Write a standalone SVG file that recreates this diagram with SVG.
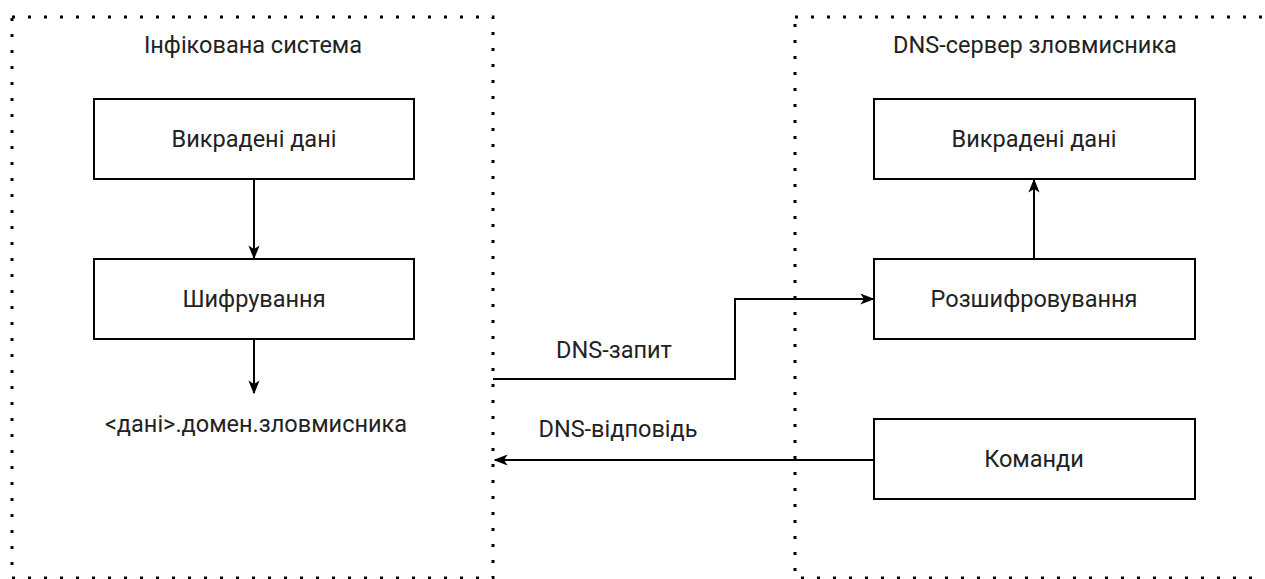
<svg xmlns="http://www.w3.org/2000/svg" width="1265" height="579" viewBox="0 0 1265 579">
  <style>
    .container { fill: none; stroke: #000; stroke-width: 3; stroke-dasharray: 3 13; }
    .box { fill: #fff; stroke: #000; stroke-width: 2; }
    .edge { fill: none; stroke: #000; stroke-width: 2; }
    text { font-family: Roboto, "Liberation Sans", sans-serif; font-size: 23.5px; fill: #222; text-anchor: middle; }
  </style>
  <defs>
    <marker id="arrow" viewBox="0 0 10 10" refX="9" refY="5" markerWidth="14" markerHeight="14" markerUnits="userSpaceOnUse" orient="auto">
      <path d="M0,1 L10,5 L0,9 L2.5,5 Z" fill="#000"/>
    </marker>
  </defs>
  <rect width="1265" height="579" fill="#fff"/>

  <!-- infected host -->
  <g id="infected-system">
    <rect class="container" x="12" y="17" width="481" height="561"/>
    <text x="253" y="53">Інфікована система</text>
  </g>

  <!-- attacker DNS server -->
  <g id="attacker-dns">
    <rect class="container" x="795" y="17" width="500" height="561"/>
    <text x="1035" y="53">DNS-сервер зловмисника</text>
  </g>

  <g id="stolen-data-left">
    <rect class="box" x="94" y="99" width="320" height="80"/>
    <text x="254" y="147">Викрадені дані</text>
  </g>
  <g id="encryption">
    <rect class="box" x="94" y="259" width="320" height="80"/>
    <text x="254" y="307">Шифрування</text>
  </g>
  <g id="query-domain">
    <text x="256" y="432">&lt;дані&gt;.домен.зловмисника</text>
  </g>

  <g id="stolen-data-right">
    <rect class="box" x="874" y="99" width="321" height="80"/>
    <text x="1034" y="147">Викрадені дані</text>
  </g>
  <g id="decryption">
    <rect class="box" x="874" y="259" width="321" height="80"/>
    <text x="1034" y="307">Розшифровування</text>
  </g>
  <g id="commands">
    <rect class="box" x="874" y="419" width="321" height="80"/>
    <text x="1034" y="467">Команди</text>
  </g>

  <g id="connectors">
    <line class="edge" x1="254" y1="179" x2="254" y2="258" marker-end="url(#arrow)"/>
    <line class="edge" x1="254" y1="339" x2="254" y2="393" marker-end="url(#arrow)"/>
    <line class="edge" x1="1034" y1="259" x2="1034" y2="180" marker-end="url(#arrow)"/>
    <path class="edge" d="M493,379 H735 V299 H873" marker-end="url(#arrow)"/>
    <path class="edge" d="M874,460 H495" marker-end="url(#arrow)"/>
    <text x="614" y="358">DNS-запит</text>
    <text x="618" y="437">DNS-відповідь</text>
  </g>
</svg>
